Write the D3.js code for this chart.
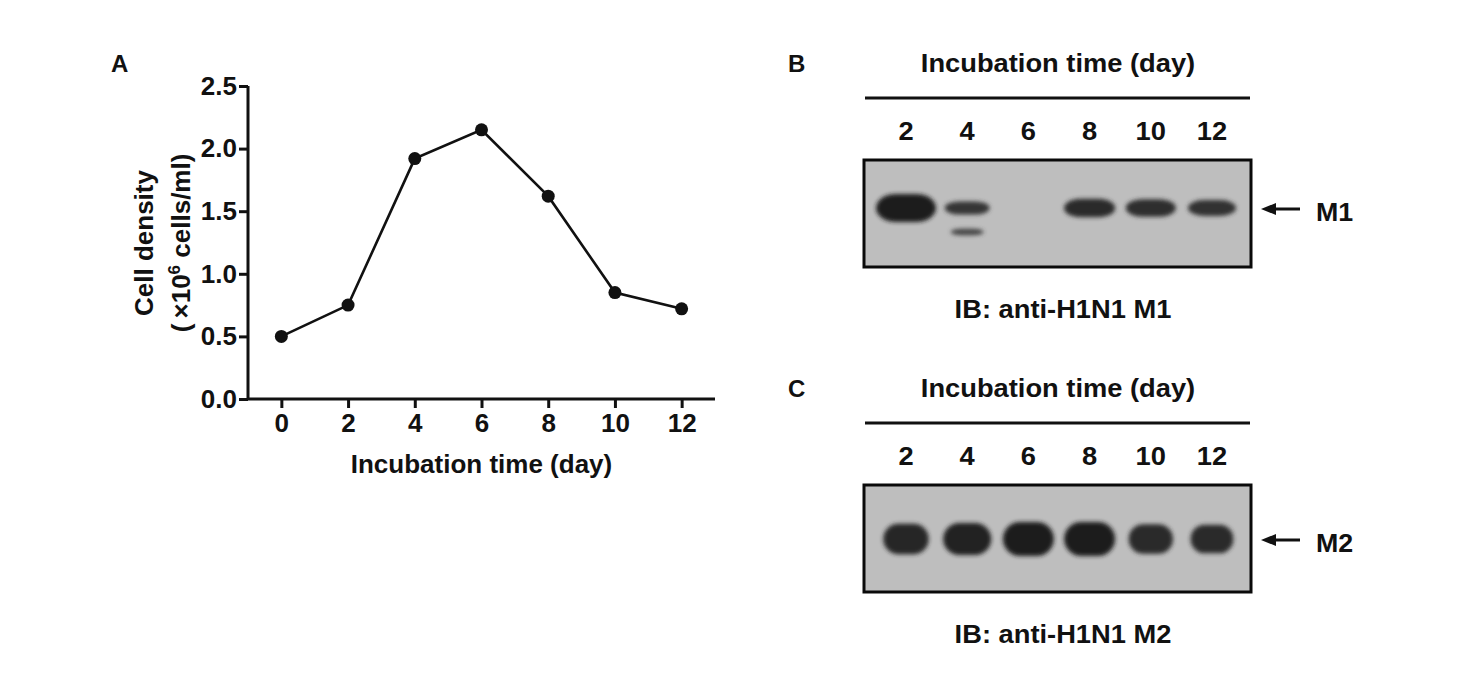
<!DOCTYPE html>
<html>
<head>
<meta charset="utf-8">
<script src="https://cdn.jsdelivr.net/npm/d3@7"></script>
<style>
  body { margin: 0; background: #fff; }
  text { font-family: "Liberation Sans", Arial, sans-serif; font-weight: bold; fill: #111; }
</style>
</head>
<body>
<div id="scene"></div>
<script>
var days = [0, 2, 4, 6, 8, 10, 12];
var cellDensity = [0.5, 0.75, 1.92, 2.15, 1.62, 0.85, 0.72];
var yTicks = [0, 0.5, 1.0, 1.5, 2.0, 2.5];

var lanes = [2, 4, 6, 8, 10, 12];
// relative band signal read off the blots (0 = no band)
var m1Upper = [1.0, 0.62, 0, 0.78, 0.75, 0.7];
var m1Lower = [0, 0.33, 0, 0, 0, 0];
var m2Band = [0.85, 0.92, 1.0, 1.0, 0.82, 0.78];

var ctx = { w: 1462, h: 682, font: 26 };

var svg = d3.select("#scene").append("svg")
  .attr("width", ctx.w)
  .attr("height", ctx.h);

svg.append("rect").attr("width", ctx.w).attr("height", ctx.h).attr("fill", "#fff");

svg.append("defs").append("filter").attr("id", "blur")
  .attr("x", "-30%").attr("y", "-60%").attr("width", "160%").attr("height", "220%")
  .append("feGaussianBlur").attr("stdDeviation", 2.1);

var label = function (g, x, y, txt, size, anchor) {
  return g.append("text")
    .attr("x", x).attr("y", y)
    .attr("font-size", size)
    .attr("text-anchor", anchor || "middle")
    .text(txt);
};

// the blot panels use slightly wider lettering
var widen = function (t, cx, k) {
  t.attr("transform", "translate(" + cx + ",0) scale(" + k + ",1) translate(" + (-cx) + ",0)");
  return t;
};

/******** PANEL A ********/
var x = d3.scaleLinear().domain([-1, 13]).range([248, 715]);
var y = d3.scaleLinear().domain([0, 2.5]).range([399, 86]);

var pa = svg.append("g");
label(pa, 111, 72, "A", 24, "start");

var yAxis = pa.append("g")
  .attr("transform", "translate(" + x(-1) + ",0)")
  .call(d3.axisLeft(y).tickValues(yTicks).tickFormat(d3.format(".1f")).tickSize(9).tickPadding(2));

var xAxis = pa.append("g")
  .attr("transform", "translate(0," + y(0) + ")")
  .call(d3.axisBottom(x).tickValues(days).tickSize(9).tickPadding(6));

[xAxis, yAxis].forEach(function (a) {
  a.select(".domain").attr("stroke", "#111").attr("stroke-width", 3);
  a.selectAll(".tick line").attr("stroke", "#111").attr("stroke-width", 3);
  a.selectAll(".tick text").attr("font-size", ctx.font).attr("fill", "#111")
    .style("font-family", "Liberation Sans, Arial, sans-serif").style("font-weight", "bold");
});
yAxis.select(".domain").attr("d", "M0," + y(2.5) + "V" + y(0));
xAxis.select(".domain").attr("d", "M" + x(-1) + ",0H" + x(13));

label(pa, x(6), 473, "Incubation time (day)", ctx.font);

var yt = pa.append("g").attr("transform", "translate(153,243) rotate(-90)");
label(yt, 0, 0, "Cell density", ctx.font);
var yt2 = yt.append("text").attr("x", 0).attr("y", 37).attr("font-size", ctx.font).attr("text-anchor", "middle");
yt2.append("tspan").text("(\u2009\u00d710");
yt2.append("tspan").attr("dy", -10).attr("font-size", 17).text("6");
yt2.append("tspan").attr("dy", 10).text(" cells/ml)");

var line = d3.line()
  .x(function (d, i) { return x(days[i]); })
  .y(function (d) { return y(d); });

pa.append("path")
  .datum(cellDensity)
  .attr("d", line)
  .attr("fill", "none")
  .attr("stroke", "#111")
  .attr("stroke-width", 2.6);

pa.selectAll(".dot")
  .data(cellDensity)
  .enter()
  .append("circle")
  .attr("class", "dot")
  .attr("cx", function (d, i) { return x(days[i]); })
  .attr("cy", function (d) { return y(d); })
  .attr("r", 6.5)
  .attr("fill", "#111");

/******** BLOTS ********/
var lx = d3.scalePoint().domain(lanes).range([906, 1212]);
var shade = d3.scaleLinear().domain([0.3, 1]).range(["#474747", "#1e1e1e"]).clamp(true);

var drawBlot = function (top, letter, protein, sets, bw, bh, bandY) {
  var g = svg.append("g").attr("transform", "translate(0," + top + ")");
  label(g, 788, 72, letter, 24, "start");
  widen(label(g, 1058, 72, "Incubation time (day)", ctx.font), 1058, 1.05);
  g.append("line").attr("x1", 865).attr("x2", 1250).attr("y1", 98).attr("y2", 98)
    .attr("stroke", "#111").attr("stroke-width", 3);

  g.selectAll(".lane")
    .data(lanes)
    .enter()
    .append("text")
    .attr("class", "lane")
    .attr("x", function (d) { return lx(d); })
    .attr("y", 140)
    .attr("font-size", ctx.font)
    .attr("text-anchor", "middle")
    .attr("transform", function (d) { return "translate(" + lx(d) + ",0) scale(1.05,1) translate(" + (-lx(d)) + ",0)"; })
    .text(function (d) { return d; });

  g.append("rect").attr("x", 864).attr("y", 160).attr("width", 387).attr("height", 107)
    .attr("fill", "#bebebe").attr("stroke", "#0a0a0a").attr("stroke-width", 3);

  sets.forEach(function (s) {
    var data = s.values
      .map(function (v, i) { return { v: v, lane: lanes[i] }; })
      .filter(function (d) { return d.v > 0; });
    g.append("g").attr("filter", "url(#blur)")
      .selectAll("rect")
      .data(data)
      .enter()
      .append("rect")
      .attr("x", function (d) { return lx(d.lane) - bw(d.v) / 2; })
      .attr("y", function (d) { return bandY + s.dy - bh(d.v) / 2; })
      .attr("width", function (d) { return bw(d.v); })
      .attr("height", function (d) { return bh(d.v); })
      .attr("rx", function (d) { return bw(d.v) / 3; })
      .attr("ry", function (d) { return bh(d.v) / 2; })
      .attr("fill", function (d) { return shade(d.v); });
  });

  // arrow pointing at the band
  g.append("line").attr("x1", 1272).attr("x2", 1300).attr("y1", bandY + 1).attr("y2", bandY + 1)
    .attr("stroke", "#111").attr("stroke-width", 3);
  g.append("path")
    .attr("d", "M1261," + (bandY + 1) + "L1276," + (bandY - 5) + "L1276," + (bandY + 7) + "Z")
    .attr("fill", "#111");
  widen(label(g, 1316, bandY + 13, protein, ctx.font, "start"), 1316, 1.03);

  widen(label(g, 1063, 318, "IB: anti-H1N1 " + protein, ctx.font), 1063, 1.05);
};

drawBlot(0, "B", "M1",
  [{ values: m1Upper, dy: 0 }, { values: m1Lower, dy: 24 }],
  d3.scaleLinear().domain([0, 1]).range([20, 60]),
  d3.scalePow().exponent(2).domain([0, 1]).range([4, 28]),
  208);

drawBlot(325, "C", "M2",
  [{ values: m2Band, dy: 0 }],
  d3.scaleLinear().domain([0, 1]).range([14, 51]),
  d3.scaleLinear().domain([0, 1]).range([10, 34]),
  214);
</script>
</body>
</html>
